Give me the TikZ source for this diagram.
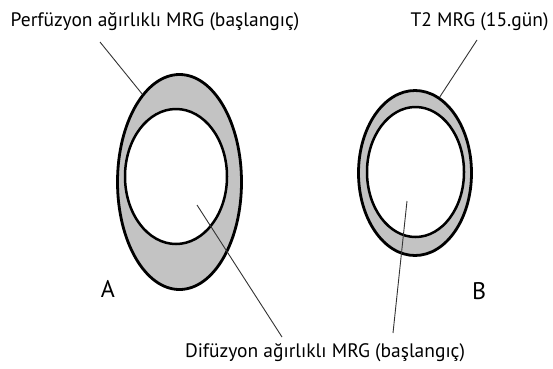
\documentclass[tikz,border=0pt]{standalone}
\usepackage{fontspec}
\setmainfont{PT Sans}
\usetikzlibrary{shapes.geometric}
\definecolor{ringgray}{RGB}{195,195,195}
\begin{document}
\begin{tikzpicture}[
    x=1pt, y=-1pt,
    every node/.style={font=\fontsize{19.5}{23}\selectfont, anchor=base},
    caption/.style={font=\fontsize{24}{28}\selectfont, anchor=base},
    ring/.style={draw, ellipse, line width=2.8pt, fill=ringgray, inner sep=0pt, anchor=center},
    hole/.style={draw, ellipse, line width=2.5pt, fill=white, inner sep=0pt, anchor=center},
    leader/.style={draw=black!80, line width=0.9pt}
]
\useasboundingbox (0,0) rectangle (553,368);

% A: perfusion / diffusion at start
\node[ring, minimum width=124, minimum height=215] (outerA) at (179.5,182) {};
\node[hole, minimum width=102, minimum height=135] (innerA) at (176,176.5) {};
% B: T2 on day 15
\node[ring, minimum width=113, minimum height=165] (outerB) at (415,173) {};
\node[hole, minimum width=97, minimum height=130] (innerB) at (415.5,172) {};

\node (perf) at (155,26) {Perfüzyon ağırlıklı MRG (başlangıç)};
\node (t2) at (479.5,26) {T2 MRG (15.gün)};
\node (dif) at (325,357) {Difüzyon ağırlıklı MRG (başlangıç)};
\node[caption] (labA) at (108,297) {A};
\node[caption] (labB) at (479,299) {B};

\coordinate (perfEnd) at (100,42);
\coordinate (t2End) at (477,40);
\coordinate (difA) at (197,205);
\coordinate (difB) at (407,201);
\coordinate (difEndA) at (282,337);
\coordinate (difEndB) at (393,333);

\draw[leader] (perfEnd) -- (outerA.113);
\draw[leader] (t2End) -- (outerB.72);
\draw[leader] (difA) -- (difEndA);
\draw[leader] (difB) -- (difEndB);
\end{tikzpicture}
\end{document}
